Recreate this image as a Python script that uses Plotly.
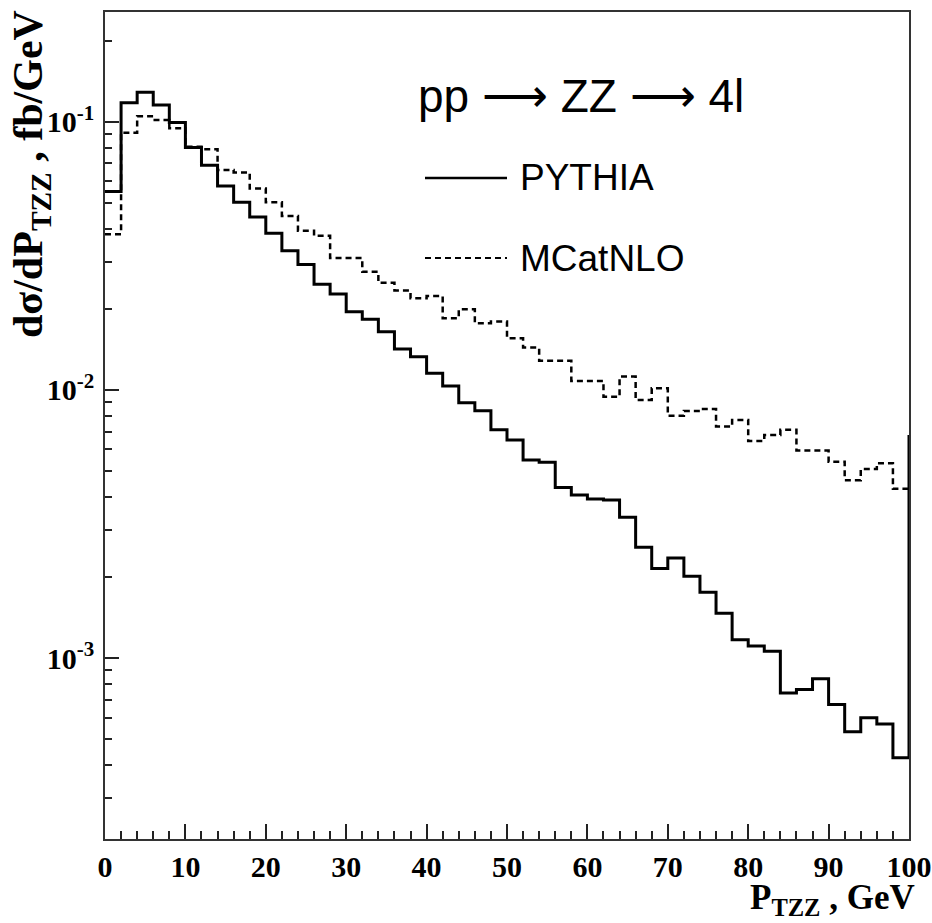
import plotly.graph_objects as go

# ---- data ----
bin_edges = list(range(0, 101, 2))  # P_TZZ bin edges, GeV

pythia = [0.0550, 0.1180, 0.1291, 0.1157, 0.0994, 0.0802, 0.0689, 0.0577, 0.0501, 0.0442,
          0.0384, 0.0331, 0.0294, 0.0248, 0.0228, 0.0196, 0.01836, 0.01650, 0.01422, 0.01331,
          0.01154, 0.01035, 0.00897, 0.00837, 0.00710, 0.00651, 0.00548, 0.00537, 0.00433, 0.00406,
          0.00392, 0.00389, 0.00335, 0.00259, 0.00216, 0.00236, 0.00202, 0.00176, 0.00147, 0.00117,
          0.00111, 0.00106, 0.000741, 0.000764, 0.000837, 0.000671, 0.000531, 0.000599, 0.000567, 0.000425]
pythia_edge_top = 0.0068  # level the PYTHIA outline climbs to at the 100 GeV edge

mcatnlo = [0.0381, 0.0912, 0.1049, 0.1017, 0.0947, 0.0807, 0.0791, 0.0662, 0.0648, 0.0565,
           0.0502, 0.0446, 0.0393, 0.0376, 0.0311, 0.0311, 0.0276, 0.0251, 0.0235, 0.0220,
           0.0224, 0.0185, 0.0200, 0.01774, 0.01799, 0.01560, 0.01439, 0.01286, 0.01286, 0.01081,
           0.01081, 0.00944, 0.01122, 0.00918, 0.01015, 0.00802, 0.00835, 0.00850, 0.00730, 0.00773,
           0.00645, 0.00680, 0.00710, 0.00594, 0.00594, 0.00540, 0.00461, 0.00507, 0.00533, 0.00428]

x_tick_vals = list(range(0, 101, 10))
y_tick_vals = [1e-3, 1e-2, 1e-1]
y_tick_text = ["10<sup>-3</sup>", "10<sup>-2</sup>", "10<sup>-1</sup>"]
y_minor_vals = [k * 10.0 ** e for e in (-4, -3, -2, -1) for k in range(2, 10)]

labels = {"title": "pp \u27f6 ZZ \u27f6 4l", "s1": "PYTHIA", "s2": "MCatNLO",
          "xtitle": "P<sub>TZZ</sub> , GeV", "ytitle": "d\u03c3/dP<sub>TZZ</sub> , fb/GeV"}

# ---- figure ----
W, H = 932, 923
ML, MR, MT, MB = 105, 23, 12, 84
PW, PH = W - ML - MR, H - MT - MB


def px(x):
    return (x - ML) / PW


def py(y):
    return (H - MB - y) / PH


fig = go.Figure()
fig.add_trace(go.Scatter(x=bin_edges, y=mcatnlo + [mcatnlo[-1]], mode="lines",
                         line=dict(shape="hv", color="black", width=2.5, dash="6px,4px"),
                         showlegend=False, hoverinfo="skip"))
fig.add_trace(go.Scatter(x=bin_edges + [bin_edges[-1]], y=pythia + [pythia[-1], pythia_edge_top],
                         mode="lines", line=dict(shape="hv", color="black", width=3),
                         showlegend=False, hoverinfo="skip"))

axis_font = dict(family="Liberation Serif", size=30, color="black", weight="bold")

fig.update_xaxes(range=[0, 100], tickvals=x_tick_vals, ticks="inside", ticklen=15, tickwidth=1.5,
                 tickcolor="#222", showline=True, linecolor="#333", linewidth=1.5, mirror=True,
                 showgrid=False, zeroline=False, tickfont=axis_font, ticklabelstandoff=0,
                 automargin=False,
                 minor=dict(dtick=2, ticks="inside", ticklen=8, tickwidth=1.5, tickcolor="#222", showgrid=False))
fig.update_yaxes(type="log", range=[-3.675, -0.59], tickvals=y_tick_vals, ticktext=y_tick_text,
                 ticks="inside", ticklen=14, tickwidth=1.5, tickcolor="#222",
                 showline=True, linecolor="#333", linewidth=1.5, mirror=True,
                 showgrid=False, zeroline=False, tickfont=axis_font, ticklabelstandoff=3,
                 automargin=False,
                 minor=dict(tickvals=y_minor_vals, ticks="inside", ticklen=7, tickwidth=1.5,
                            tickcolor="#222", showgrid=False))

title_font = dict(family="Liberation Serif", size=35, color="black", weight="bold")
fig.add_annotation(xref="paper", yref="paper", x=px(916), y=py(899), xanchor="right", yanchor="middle",
                   text=labels["xtitle"], showarrow=False, font=title_font, borderpad=0)
fig.add_annotation(xref="paper", yref="paper", x=px(31), y=py(8), xanchor="center", yanchor="top",
                   text=labels["ytitle"], textangle=-90, showarrow=False,
                   font=dict(family="Liberation Serif", size=42, color="black", weight="bold"))

leg_font = dict(family="Liberation Sans", size=37, color="black")
fig.add_annotation(xref="paper", yref="paper", x=px(416), y=py(96), xanchor="left", yanchor="middle",
                   text=labels["title"], showarrow=False,
                   font=dict(family="Liberation Sans", size=46, color="black"))
fig.add_annotation(xref="paper", yref="paper", x=px(518), y=py(178), xanchor="left", yanchor="middle",
                   text=labels["s1"], showarrow=False, font=leg_font)
fig.add_annotation(xref="paper", yref="paper", x=px(518), y=py(258), xanchor="left", yanchor="middle",
                   text=labels["s2"], showarrow=False, font=leg_font)
fig.add_shape(type="line", xref="paper", yref="paper", x0=px(425), x1=px(507), y0=py(178), y1=py(178),
              line=dict(color="black", width=2.5))
fig.add_shape(type="line", xref="paper", yref="paper", x0=px(425), x1=px(507), y0=py(258), y1=py(258),
              line=dict(color="black", width=2, dash="6px,4px"))

fig.update_layout(width=W, height=H, margin=dict(l=ML, r=MR, t=MT, b=MB),
                  paper_bgcolor="white", plot_bgcolor="white", showlegend=False)

fig.write_html("out.html")
